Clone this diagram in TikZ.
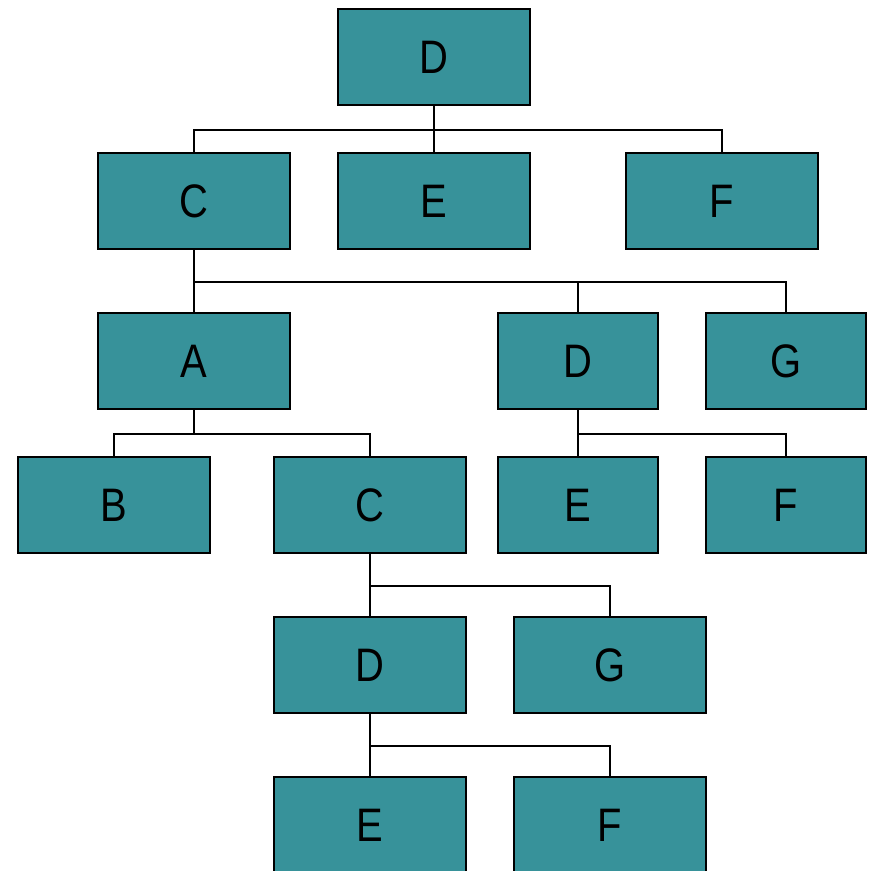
\documentclass[tikz,border=0pt]{standalone}
\usepackage{fontspec}
\setmainfont[FakeStretch=0.85]{Liberation Sans}
\definecolor{teal1}{HTML}{37929A}
\tikzset{
  box/.style={draw=black, line width=1.6pt, fill=teal1, minimum height=96pt, inner sep=0pt, font=\fontsize{47}{47}\selectfont},
  wide/.style={box, minimum width=192pt},
  narrow/.style={box, minimum width=160pt},
  link/.style={draw=black, line width=1.4pt},
}
\begin{document}
\begin{tikzpicture}[x=1pt,y=-1pt]
\clip (0,0) rectangle (869,871);
\fill[white] (0,0) rectangle (869,871);
\node[wide] (D0) at (434,57) {D};
\node[wide] (C1) at (194,201) {C};
\node[wide] (E1) at (434,201) {E};
\node[wide] (F1) at (722,201) {F};
\node[wide] (A2) at (194,361) {A};
\node[narrow] (D2) at (578,361) {D};
\node[narrow] (G2) at (786,361) {G};
\node[wide] (B3) at (114,505) {B};
\node[wide] (C3) at (370,505) {C};
\node[narrow] (E3) at (578,505) {E};
\node[narrow] (F3) at (786,505) {F};
\node[wide] (D4) at (370,665) {D};
\node[wide] (G4) at (610,665) {G};
\node[wide] (E5) at (370,825) {E};
\node[wide] (F5) at (610,825) {F};
\foreach \c in {C1,E1,F1} \draw[link] (D0.south) -- ++(0,24) -| (\c.north);
\foreach \c in {A2,D2,G2} \draw[link] (C1.south) -- ++(0,32) -| (\c.north);
\foreach \c in {B3,C3} \draw[link] (A2.south) -- ++(0,24) -| (\c.north);
\foreach \c in {E3,F3} \draw[link] (D2.south) -- ++(0,24) -| (\c.north);
\foreach \c in {D4,G4} \draw[link] (C3.south) -- ++(0,32) -| (\c.north);
\foreach \c in {E5,F5} \draw[link] (D4.south) -- ++(0,32) -| (\c.north);
\end{tikzpicture}
\end{document}
